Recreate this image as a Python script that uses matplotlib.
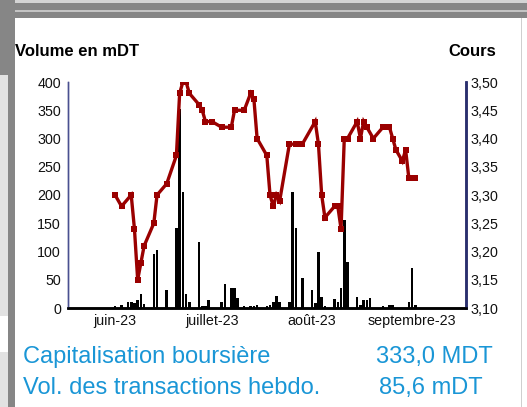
import pandas as pd
import matplotlib.pyplot as plt
from matplotlib.patches import Rectangle

plt.rcParams['font.family'] = ['Liberation Sans', 'DejaVu Sans']

# daily price (Cours)
price_dates = ["2023-06-01", "2023-06-03", "2023-06-06", "2023-06-07", "2023-06-08", "2023-06-09",
               "2023-06-10", "2023-06-13", "2023-06-14", "2023-06-17", "2023-06-20", "2023-06-21",
               "2023-06-22", "2023-06-23", "2023-06-24", "2023-06-27", "2023-06-28", "2023-06-29",
               "2023-07-01", "2023-07-04", "2023-07-07", "2023-07-08", "2023-07-11", "2023-07-13",
               "2023-07-14", "2023-07-15", "2023-07-18", "2023-07-19", "2023-07-20", "2023-07-21",
               "2023-07-22", "2023-07-25", "2023-07-27", "2023-07-29", "2023-08-02", "2023-08-03",
               "2023-08-04", "2023-08-05", "2023-08-08", "2023-08-09", "2023-08-10", "2023-08-11",
               "2023-08-12", "2023-08-15", "2023-08-16", "2023-08-17", "2023-08-18", "2023-08-20",
               "2023-08-23", "2023-08-25", "2023-08-26", "2023-08-27", "2023-08-29", "2023-08-30",
               "2023-08-31", "2023-09-02"]
prices = [3.30, 3.28, 3.30, 3.24, 3.15, 3.18, 3.21, 3.25, 3.30, 3.32, 3.37, 3.48, 3.50, 3.50, 3.48,
          3.46, 3.45, 3.43,
          3.43, 3.42, 3.42, 3.45, 3.45, 3.48, 3.47, 3.40, 3.37, 3.30, 3.28, 3.30, 3.29, 3.39, 3.39, 3.39,
          3.43, 3.39, 3.30, 3.26, 3.28, 3.28, 3.24, 3.40, 3.40, 3.43, 3.40, 3.43, 3.42, 3.40, 3.42, 3.42,
          3.40, 3.38, 3.36, 3.38, 3.33,
          3.33]

# daily volume in mDT
vol_dates = ["2023-06-01", "2023-06-03", "2023-06-05", "2023-06-06", "2023-06-07", "2023-06-08",
             "2023-06-09", "2023-06-10", "2023-06-13", "2023-06-14", "2023-06-17", "2023-06-20",
             "2023-06-21", "2023-06-22", "2023-06-23", "2023-06-24", "2023-06-27", "2023-06-28",
             "2023-06-29", "2023-06-30",
             "2023-07-04", "2023-07-05", "2023-07-07", "2023-07-08", "2023-07-09", "2023-07-11",
             "2023-07-13", "2023-07-14", "2023-07-15", "2023-07-18", "2023-07-19", "2023-07-20",
             "2023-07-21", "2023-07-22", "2023-07-25", "2023-07-26", "2023-07-27", "2023-07-29",
             "2023-08-01", "2023-08-02", "2023-08-03", "2023-08-04", "2023-08-05", "2023-08-08",
             "2023-08-09", "2023-08-10", "2023-08-11", "2023-08-12", "2023-08-15", "2023-08-16",
             "2023-08-17", "2023-08-18", "2023-08-19", "2023-08-23", "2023-08-25", "2023-08-26",
             "2023-08-31", "2023-09-01", "2023-09-02"]
volumes = [3, 6, 10, 10, 8, 14, 25, 7, 95, 103, 32, 141, 353, 205, 25, 10, 116, 3, 3, 14,
           10, 42, 35, 35, 17, 3, 3, 3, 6, 3, 6, 10, 21, 10, 10, 205, 141, 53,
           32, 8, 99, 20, 3, 16, 10, 35, 156, 82, 20, 6, 14, 14, 17, 3, 6, 6, 10,
           70, 6]

month_ticks = ["2023-06-01", "2023-07-01", "2023-08-01", "2023-09-01"]
month_labels = ["juin-23", "juillet-23", "août-23", "septembre-23"]
vol_ticks = [0, 50, 100, 150, 200, 250, 300, 350, 400]
price_ticks = [3.10, 3.15, 3.20, 3.25, 3.30, 3.35, 3.40, 3.45, 3.50]

W, H = 527, 407
fig = plt.figure(figsize=(W / 100, H / 100), dpi=100)


def px_rect(x, y, w, h, color):
    # rectangle in pixel coords measured from the top-left corner
    fig.add_artist(Rectangle((x / W, 1 - (y + h) / H), w / W, h / H,
                             transform=fig.transFigure, color=color, lw=0, zorder=0))


# window frame around the widget
px_rect(0, 0, W, 3, "#d4d4d4")
px_rect(0, 3, W, 15, "#868686")
px_rect(0, 10, W, 1.5, "#c4c4c4")
px_rect(0, 0, 15, 75, "#868686")
px_rect(0, 75, 8, 241, "#e2e2e2")
px_rect(0, 352, 8, 55, "#e2e2e2")
px_rect(8, 75, 7, H - 75, "#868686")
px_rect(520.5, 18, 1.2, H - 18, "#cfcfcf")

ax = fig.add_axes([68 / W, 1 - 308 / H, (466 - 68) / W, (308 - 82) / H])
ax2 = ax.twinx()

dates_v = pd.to_datetime(vol_dates)
ax.bar(dates_v, volumes, width=0.8, color="black", zorder=2)
ax.set_ylim(0, 400)
ax.set_yticks(vol_ticks)
ax.set_xlim(pd.Timestamp("2023-05-17 10:00"), pd.Timestamp("2023-09-17 17:00"))
ax.set_xticks(pd.to_datetime(month_ticks))
ax.set_xticklabels(month_labels)
ax.tick_params(axis="both", length=0, labelsize=10.3, colors="#111111")
ax.tick_params(axis="x", pad=4)
ax.tick_params(axis="y", pad=5)

dates_p = pd.to_datetime(price_dates)
ax2.plot(dates_p, prices, color="#9a0000", lw=2.4, marker="s", markersize=4.3,
         markeredgewidth=0, solid_joinstyle="miter")
ax2.set_ylim(3.10, 3.50)
ax2.set_yticks(price_ticks)
ax2.set_yticklabels([f"{v:.2f}".replace(".", ",") for v in price_ticks])
ax2.tick_params(axis="y", length=0, labelsize=10.3, colors="#111111", pad=3)

for a in (ax, ax2):
    a.spines["top"].set_visible(False)
    a.spines["left"].set_color("#4a5090")
    a.spines["left"].set_linewidth(1.0)
    a.spines["right"].set_color("#2a2f6e")
    a.spines["right"].set_linewidth(1.8)
    a.spines["bottom"].set_color("black")
    a.spines["bottom"].set_linewidth(1.8)

# headers
fig.text(15 / W, 1 - 56 / H, "Volume en mDT", fontsize=12, fontweight="bold",
         ha="left", va="baseline")
fig.text(496 / W, 1 - 56 / H, "Cours", fontsize=12, fontweight="bold",
         ha="right", va="baseline")

# key figures under the chart
blue = "#1a96d6"
fig.text(23 / W, 1 - 363 / H, "Capitalisation boursière", fontsize=17, color=blue,
         ha="left", va="baseline")
fig.text(493 / W, 1 - 363 / H, "333,0 MDT", fontsize=17, color=blue,
         ha="right", va="baseline")
fig.text(23 / W, 1 - 394 / H, "Vol. des transactions hebdo.", fontsize=17, color=blue,
         ha="left", va="baseline")
fig.text(483 / W, 1 - 394 / H, "85,6 mDT", fontsize=17, color=blue,
         ha="right", va="baseline")

fig.savefig("out.png", dpi=100)
